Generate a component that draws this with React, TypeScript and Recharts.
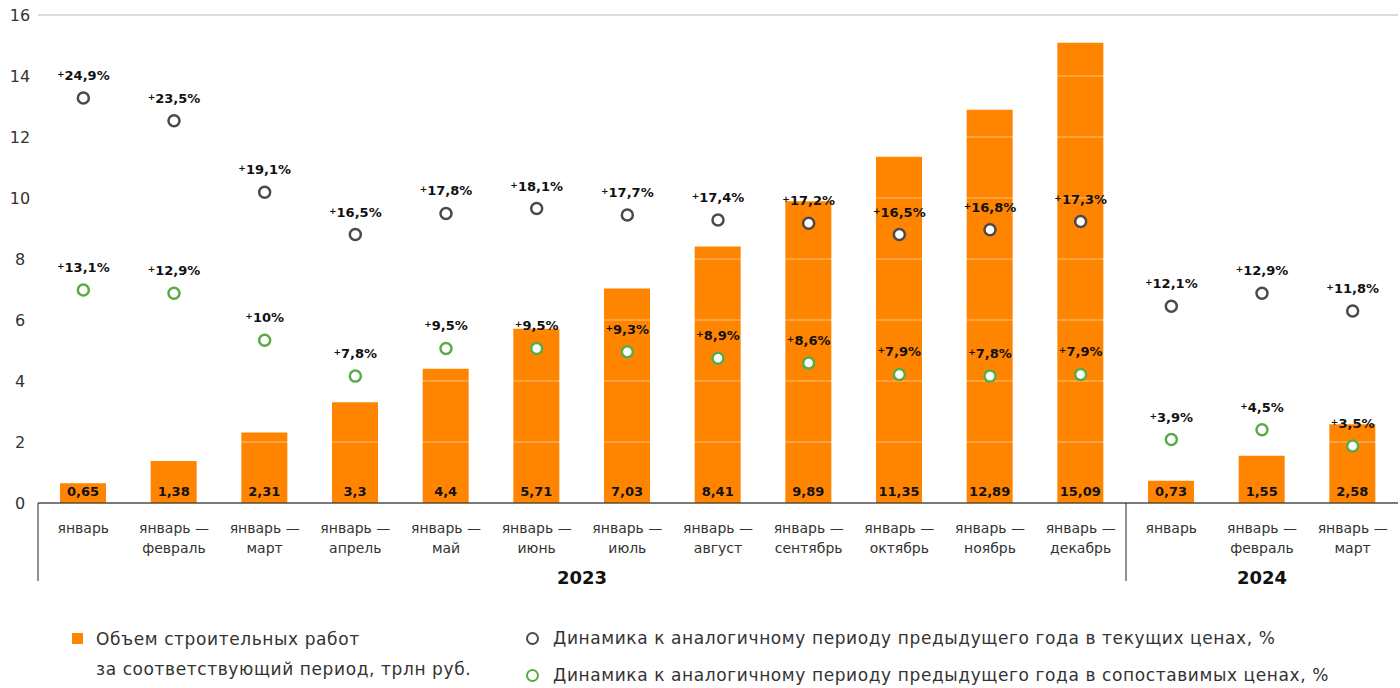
import React from 'react';
import { ComposedChart, Bar, Line, XAxis, YAxis, CartesianGrid, ReferenceLine, LabelList } from 'recharts';

const periodTop = ['январь', 'январь —', 'январь —', 'январь —', 'январь —', 'январь —', 'январь —', 'январь —', 'январь —', 'январь —', 'январь —', 'январь —', 'январь', 'январь —', 'январь —'];
const periodBottom = ['', 'февраль', 'март', 'апрель', 'май', 'июнь', 'июль', 'август', 'сентябрь', 'октябрь', 'ноябрь', 'декабрь', '', 'февраль', 'март'];
const years = ['2023', '2023', '2023', '2023', '2023', '2023', '2023', '2023', '2023', '2023', '2023', '2023', '2024', '2024', '2024'];
const volume = [0.65, 1.38, 2.31, 3.3, 4.4, 5.71, 7.03, 8.41, 9.89, 11.35, 12.89, 15.09, 0.73, 1.55, 2.58];
const currentPrices = [24.9, 23.5, 19.1, 16.5, 17.8, 18.1, 17.7, 17.4, 17.2, 16.5, 16.8, 17.3, 12.1, 12.9, 11.8];
const comparablePrices = [13.1, 12.9, 10, 7.8, 9.5, 9.5, 9.3, 8.9, 8.6, 7.9, 7.8, 7.9, 3.9, 4.5, 3.5];
const yTicks = [0, 2, 4, 6, 8, 10, 12, 14, 16];

const data = periodTop.map((top, i) => ({
  key: `${years[i]}-${i}`,
  top,
  bottom: periodBottom[i],
  year: years[i],
  volume: volume[i],
  current: currentPrices[i],
  comparable: comparablePrices[i],
}));

const FONT = '"DejaVu Sans", sans-serif';
const ORANGE = '#ff8500';
const DARK = '#4a4a4a';
const GREEN = '#5aab45';

const fmt = (v: number) => String(v).replace('.', ',');

const XTick = (props: any) => {
  const { x, y, payload, index } = props;
  const half = payload && payload.offset ? payload.offset : 45.3;
  const row = data[index];
  const isStart = index === 0 || data[index - 1].year !== row.year;
  let groupSize = 0;
  if (isStart) {
    for (let j = index; j < data.length && data[j].year === row.year; j++) groupSize++;
  }
  return (
    <g>
      <text x={x} y={y + 22} textAnchor="middle" fontSize={14} fill="#333" fontFamily={FONT}>
        {row.top}
      </text>
      {row.bottom && (
        <text x={x} y={y + 42} textAnchor="middle" fontSize={14} fill="#333" fontFamily={FONT}>
          {row.bottom}
        </text>
      )}
      {isStart && (
        <line x1={x - half} x2={x - half} y1={y - 8} y2={y + 70} stroke="#222" strokeWidth={1} />
      )}
      {isStart && (
        <text x={x - half + groupSize * half} y={y + 73} textAnchor="middle" fontSize={18} fontWeight="bold" fill="#111" fontFamily={FONT}>
          {row.year}
        </text>
      )}
    </g>
  );
};

const YTick = (props: any) => {
  const { y, payload } = props;
  return (
    <text x={20} y={y + 6} textAnchor="middle" fontSize={16} fill="#333" fontFamily={FONT}>
      {payload.value}
    </text>
  );
};

const PctLabel = (props: any) => {
  const { x, y, value } = props;
  return (
    <text x={x} y={y - 18} textAnchor="middle" fontSize={13} fontWeight="bold" fill="#111" fontFamily={FONT}>
      <tspan fontSize={9} dy={-3}>+</tspan>
      <tspan dy={3}>{fmt(value)}%</tspan>
    </text>
  );
};

const BarValue = (props: any) => {
  const { x, y, width, height, value } = props;
  return (
    <text x={x + width / 2} y={y + height - 7} textAnchor="middle" fontSize={13} fontWeight="bold" fill="#111" fontFamily={FONT}>
      {fmt(value)}
    </text>
  );
};

const Legend = () => (
  <div style={{ position: 'absolute', left: 0, top: 620, width: 1400, fontFamily: FONT, fontSize: 17, letterSpacing: 0.6, color: '#333' }}>
    <div style={{ position: 'absolute', left: 72, top: 13, width: 11, height: 11, background: ORANGE }} />
    <div style={{ position: 'absolute', left: 96, top: 4, lineHeight: '30px', whiteSpace: 'nowrap' }}>
      Объем строительных работ
      <br />
      за соответствующий период, трлн руб.
    </div>
    <div style={{ position: 'absolute', left: 526, top: 12, width: 9, height: 9, borderRadius: '50%', border: `2.5px solid ${DARK}` }} />
    <div style={{ position: 'absolute', left: 553, top: 8, lineHeight: '20px', whiteSpace: 'nowrap' }}>
      Динамика к аналогичному периоду предыдущего года в текущих ценах, %
    </div>
    <div style={{ position: 'absolute', left: 526, top: 49, width: 9, height: 9, borderRadius: '50%', border: `2.5px solid ${GREEN}` }} />
    <div style={{ position: 'absolute', left: 553, top: 45, lineHeight: '20px', whiteSpace: 'nowrap' }}>
      Динамика к аналогичному периоду предыдущего года в сопоставимых ценах, %
    </div>
  </div>
);

const App: React.FC = () => {
  return (
    <div style={{ position: 'absolute', left: 0, top: 0, width: 1400, height: 688, background: '#fff' }}>
      <ComposedChart width={1400} height={600} data={data} margin={{ top: 15, right: 2, left: 0, bottom: 17 }}>
        <CartesianGrid vertical={false} stroke="#a6a6a6" />
        <XAxis dataKey="key" tick={<XTick />} tickLine={false} axisLine={{ stroke: '#222' }} height={80} interval={0} />
        <YAxis yAxisId="vol" domain={[0, 16]} ticks={yTicks} width={38} tick={<YTick />} tickLine={false} axisLine={false} />
        <YAxis yAxisId="pct" orientation="right" domain={[0, 30]} hide />
        <Bar yAxisId="vol" dataKey="volume" fill={ORANGE} barSize={46} isAnimationActive={false}>
          <LabelList dataKey="volume" content={<BarValue />} />
        </Bar>
        {yTicks.filter((t) => t > 0).map((t) => (
          <ReferenceLine key={t} yAxisId="vol" y={t} stroke="#ffffff" strokeOpacity={0.5} />
        ))}
        <Line
          yAxisId="pct"
          dataKey="current"
          stroke="none"
          dot={{ r: 5.5, fill: '#fff', stroke: DARK, strokeWidth: 2.5 }}
          activeDot={false}
          isAnimationActive={false}
        >
          <LabelList dataKey="current" content={<PctLabel />} />
        </Line>
        <Line
          yAxisId="pct"
          dataKey="comparable"
          stroke="none"
          dot={{ r: 5.5, fill: '#fff', stroke: GREEN, strokeWidth: 2.5 }}
          activeDot={false}
          isAnimationActive={false}
        >
          <LabelList dataKey="comparable" content={<PctLabel />} />
        </Line>
      </ComposedChart>
      <Legend />
    </div>
  );
};

export default App;
